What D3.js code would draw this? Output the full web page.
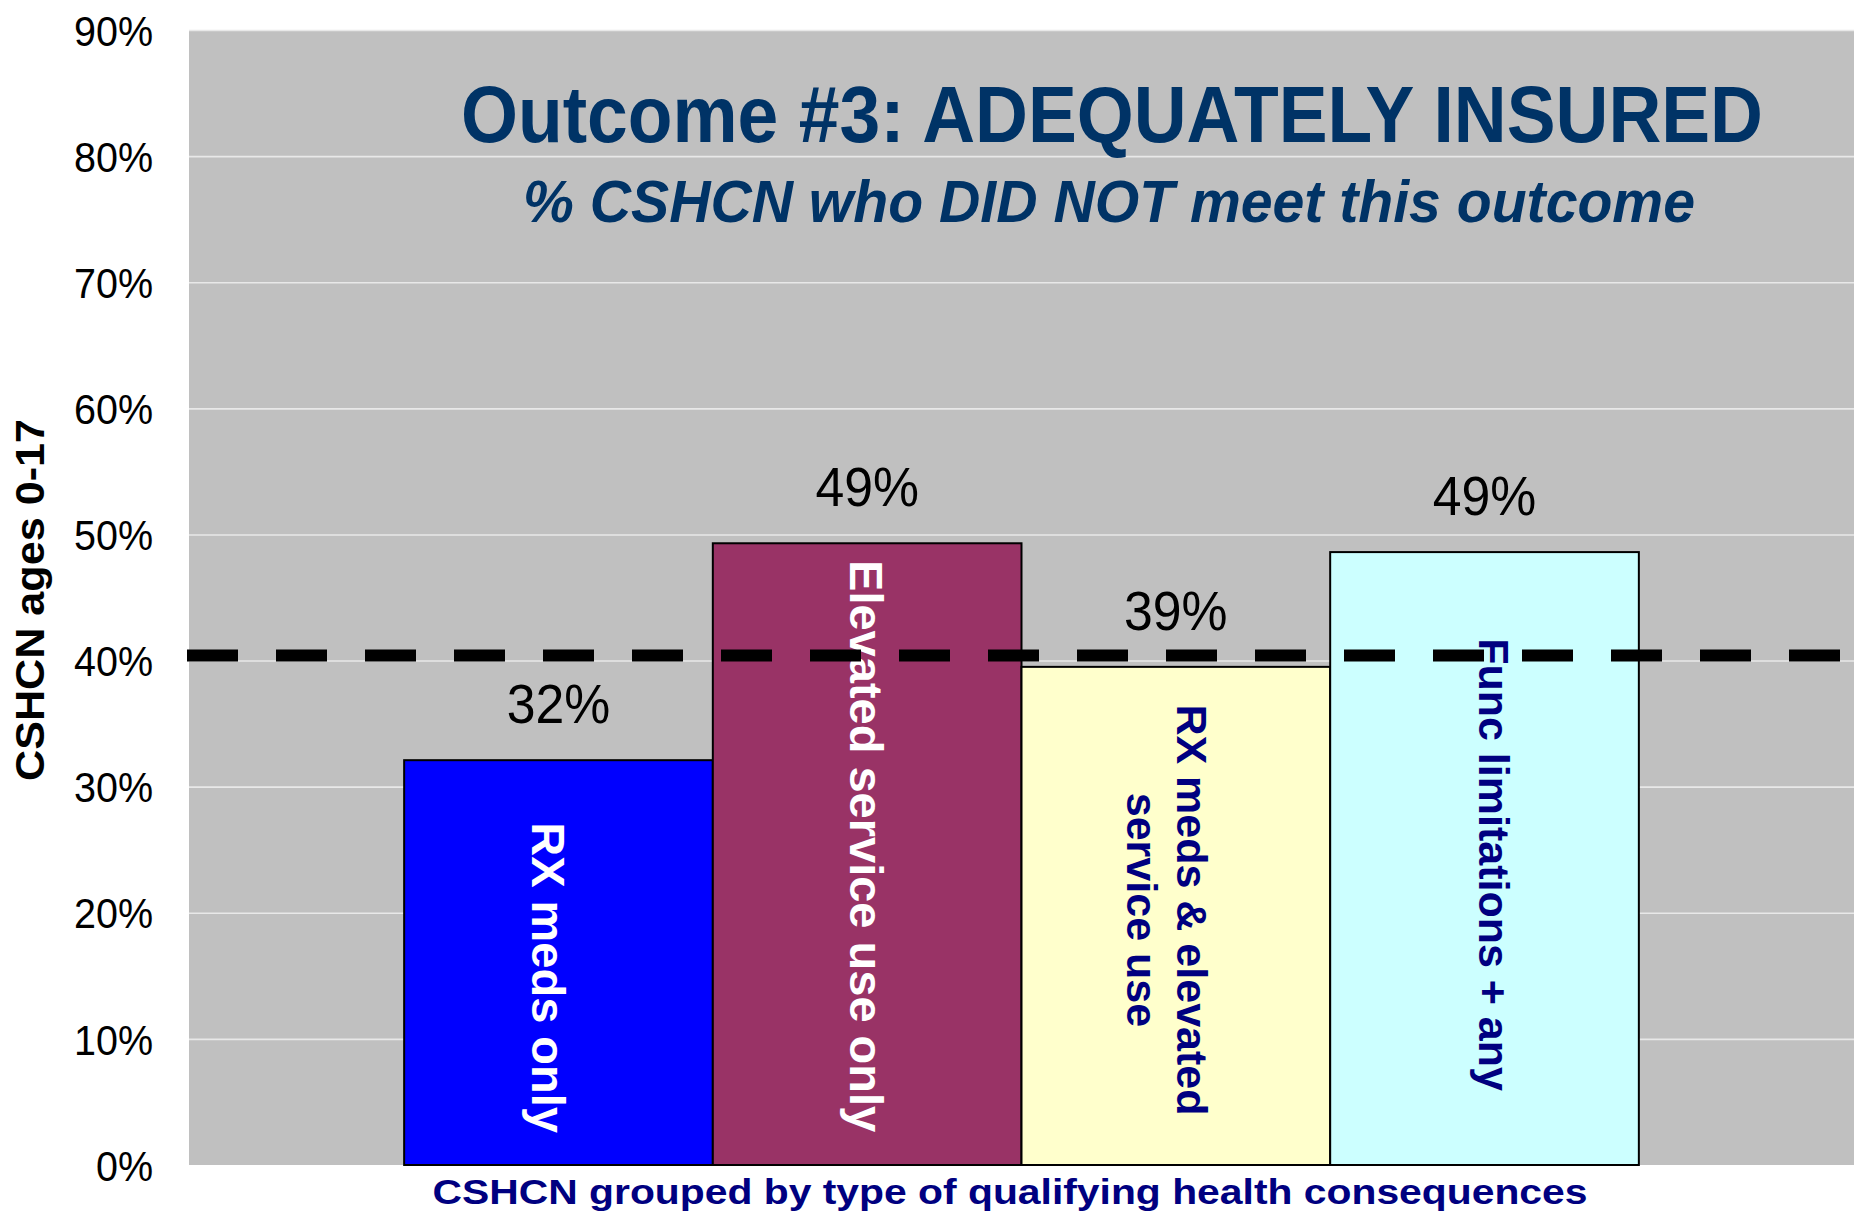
<!DOCTYPE html>
<html>
<head>
<meta charset="utf-8">
<script src="https://cdn.jsdelivr.net/npm/d3@7"></script>
<style>
  html, body { margin: 0; padding: 0; background: #ffffff; }
  svg { display: block; font-family: "Liberation Sans", Arial, sans-serif; }
</style>
</head>
<body>
<svg id="chart" width="1865" height="1225"></svg>
<script>
// ---- data ----
const categories = ["RX meds only", "Elevated service use only", "RX meds & elevated service use", "Func limitations + any"];
const categoryLines = [["RX meds only"], ["Elevated service use only"], ["RX meds & elevated", "service use"], ["Func limitations + any"]];
const values = [32.1, 49.3, 39.5, 48.6];
const valueLabels = ["32%", "49%", "39%", "49%"];
const barColors = ["#0000FF", "#993366", "#FFFFCC", "#CCFFFF"];
const barTextColors = ["#FFFFFF", "#FFFFFF", "#000080", "#000080"];
const yTicks = [0, 10, 20, 30, 40, 50, 60, 70, 80, 90];
const yTickLabels = ["0%", "10%", "20%", "30%", "40%", "50%", "60%", "70%", "80%", "90%"];
const referenceValue = 40.4;
const titleText = "Outcome #3: ADEQUATELY INSURED";
const subtitleText = "% CSHCN who DID NOT meet this outcome";
const xTitleText = "CSHCN grouped by type of qualifying health consequences";
const yTitleText = "CSHCN ages 0-17";

// ---- layout ----
const plot = { left: 189, right: 1854, top: 30, bottom: 1165 };
// small per-label placement tweaks for the rotated in-bar labels (layout only)
const inBarLabelShift = { "RX meds only": [-10, 15], "Elevated service use only": [0, -8], "RX meds & elevated service use": [-8, -6], "Func limitations + any": [10, 6] };
const svg = d3.select("#chart");

const x = d3.scaleBand().domain(categories).range([plot.left, plot.right])
  .paddingInner(0).paddingOuter(0.697);
const y = d3.scaleLinear().domain([0, 90]).range([plot.bottom, plot.top]);

function squeeze(sel, k) {
  sel.each(function () {
    const w = this.getComputedTextLength();
    d3.select(this).attr("textLength", w * k).attr("lengthAdjust", "spacingAndGlyphs");
  });
  return sel;
}

// plot background
svg.append("rect")
  .attr("x", plot.left).attr("y", plot.top)
  .attr("width", plot.right - plot.left).attr("height", plot.bottom - plot.top)
  .attr("fill", "#C0C0C0");

// gridlines
const yAxisGrid = d3.axisLeft(y).tickValues(yTicks.filter(t => t > 0))
  .tickSize(-(plot.right - plot.left)).tickFormat("");
const grid = svg.append("g").attr("transform", `translate(${plot.left},0)`).call(yAxisGrid);
grid.select(".domain").remove();
grid.selectAll("line").attr("stroke", "#E8E8E8").attr("stroke-width", 1.6);

// y tick labels
const yAxis = d3.axisLeft(y).tickValues(yTicks).tickSize(0).tickPadding(36)
  .tickFormat((d, i) => yTickLabels[i]);
const ya = svg.append("g").attr("transform", `translate(${plot.left},0)`).call(yAxis);
ya.select(".domain").remove();
ya.selectAll("text")
  .attr("font-family", "'Liberation Sans', Arial, sans-serif")
  .attr("font-size", 42).attr("fill", "#000").attr("dy", "0.36em");
squeeze(ya.selectAll("text"), 0.94);

// bars
svg.append("g").selectAll("rect").data(categories).join("rect")
  .attr("x", d => x(d))
  .attr("y", (d, i) => y(values[i]))
  .attr("width", x.bandwidth())
  .attr("height", (d, i) => y(0) - y(values[i]))
  .attr("fill", (d, i) => barColors[i])
  .attr("stroke", "#000").attr("stroke-width", 2);

// value labels
const vl = svg.append("g").selectAll("text").data(categories).join("text")
  .attr("x", d => x(d) + x.bandwidth() / 2)
  .attr("y", (d, i) => y(values[i]) - 37)
  .attr("text-anchor", "middle")
  .attr("font-size", 55).attr("fill", "#000")
  .text((d, i) => valueLabels[i]);
squeeze(vl, 0.94);

// rotated bar labels
categories.forEach((c, i) => {
  const fs = i < 2 ? 47 : 43;
  const lines = categoryLines[i];
  const lh = 50;
  const cap = 0.716 * fs;
  const sh = inBarLabelShift[c] || [0, 0];
  const cx = x(c) + x.bandwidth() / 2 + sh[0];
  const cy = (y(values[i]) + y(0)) / 2 + sh[1];
  const y0 = (cap - (lines.length - 1) * lh) / 2;
  const t = svg.append("text")
    .attr("transform", `translate(${cx},${cy}) rotate(90)`)
    .attr("text-anchor", "middle")
    .attr("font-weight", "bold")
    .attr("font-size", fs)
    .attr("fill", barTextColors[i]);
  lines.forEach((ln, j) => {
    t.append("tspan").attr("x", 0).attr("y", y0 + j * lh).text(ln);
  });
});

// reference dashed line
svg.append("line")
  .attr("x1", plot.left - 2).attr("x2", plot.right)
  .attr("y1", y(referenceValue)).attr("y2", y(referenceValue))
  .attr("stroke", "#000").attr("stroke-width", 12)
  .attr("stroke-dasharray", "51 38");

// titles
svg.append("text")
  .attr("x", 1112).attr("y", 142)
  .attr("text-anchor", "middle")
  .attr("font-weight", "bold").attr("font-size", 80)
  .attr("fill", "#003366")
  .attr("textLength", 1302).attr("lengthAdjust", "spacingAndGlyphs")
  .text(titleText);

svg.append("text")
  .attr("x", 1109).attr("y", 222)
  .attr("text-anchor", "middle")
  .attr("font-weight", "bold").attr("font-style", "italic").attr("font-size", 60)
  .attr("fill", "#003366")
  .attr("textLength", 1172).attr("lengthAdjust", "spacingAndGlyphs")
  .text(subtitleText);

// x axis title
svg.append("text")
  .attr("x", 1010).attr("y", 1204)
  .attr("text-anchor", "middle")
  .attr("font-weight", "bold").attr("font-size", 35)
  .attr("fill", "#000080")
  .attr("textLength", 1155).attr("lengthAdjust", "spacingAndGlyphs")
  .text(xTitleText);

// y axis title
svg.append("text")
  .attr("transform", "translate(44,600) rotate(-90)")
  .attr("text-anchor", "middle")
  .attr("font-weight", "bold").attr("font-size", 40)
  .attr("fill", "#000")
  .attr("textLength", 362).attr("lengthAdjust", "spacingAndGlyphs")
  .text(yTitleText);
</script>
</body>
</html>
